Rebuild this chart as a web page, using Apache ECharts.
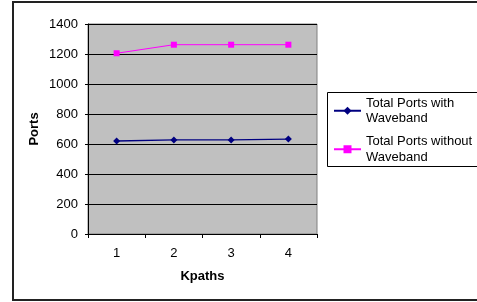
<!DOCTYPE html>
<html>
<head>
<meta charset="utf-8">
<script src="https://cdn.jsdelivr.net/npm/echarts@6/dist/echarts.min.js"></script>
<style>html,body{margin:0;padding:0;background:#fff}#c{width:477px;height:302px}</style>
</head>
<body>
<div id="c"></div>
<script>
const categories = ['1', '2', '3', '4'];
const withWaveband = [620, 627, 627, 633];
const withoutWaveband = [1205, 1262, 1262, 1262];
const seriesNames = ['Total Ports with\nWaveband', 'Total Ports without\nWaveband'];
const yTicks = { min: 0, max: 1400, interval: 200 };

const FONT = '"Liberation Sans", Arial, sans-serif';
const chart = echarts.init(document.getElementById('c'), null, { renderer: 'canvas' });

function legendFor(name, top) {
  return {
    data: [name],
    orient: 'vertical',
    left: 333,
    top: top,
    itemWidth: 27,
    itemHeight: 10,
    itemGap: 0,
    padding: 0,
    textStyle: {
      fontFamily: FONT, fontSize: 13, color: '#000',
      lineHeight: 15.5, padding: [15.5, 0, 0, 0]
    }
  };
}

chart.setOption({
  animation: false,
  backgroundColor: '#fff',
  graphic: [
    { type: 'rect', shape: { x: 13, y: 2, width: 470, height: 298 }, style: { fill: 'none', stroke: '#222', lineWidth: 2 }, z: 0 },
    { type: 'rect', shape: { x: 327.5, y: 92.5, width: 160, height: 74 }, style: { fill: '#fff', stroke: '#000', lineWidth: 1 }, z: 1 }
  ],
  legend: [legendFor(seriesNames[0], 87.5), legendFor(seriesNames[1], 126)],
  grid: {
    left: 88, top: 24, width: 229, height: 210,
    show: true, backgroundColor: '#C0C0C0', borderColor: '#808080', borderWidth: 1
  },
  xAxis: {
    type: 'category',
    data: categories,
    boundaryGap: true,
    name: 'Kpaths',
    nameLocation: 'middle',
    nameGap: 36,
    nameTextStyle: { fontFamily: FONT, fontSize: 13, fontWeight: 'bold', color: '#000' },
    axisLine: { lineStyle: { color: '#000', width: 1 } },
    axisTick: { show: true, length: 4, lineStyle: { color: '#000' } },
    axisLabel: { margin: 13, fontFamily: FONT, fontSize: 13, color: '#000' },
    splitLine: { show: false }
  },
  yAxis: {
    type: 'value',
    min: yTicks.min, max: yTicks.max, interval: yTicks.interval,
    name: 'Ports',
    nameLocation: 'middle',
    nameGap: 47,
    nameTextStyle: { fontFamily: FONT, fontSize: 13, fontWeight: 'bold', color: '#000' },
    axisLine: { show: true, lineStyle: { color: '#000', width: 1 } },
    axisTick: { show: true, length: 3, lineStyle: { color: '#000' } },
    axisLabel: { margin: 10, fontFamily: FONT, fontSize: 13, color: '#000', formatter: (v) => String(v) },
    splitLine: { show: true, lineStyle: { color: '#000', width: 1 } }
  },
  series: [
    {
      name: seriesNames[0], type: 'line', data: withWaveband,
      symbol: 'diamond', symbolSize: 7,
      itemStyle: { color: '#000080' },
      lineStyle: { color: '#000080', width: 1.3 }
    },
    {
      name: seriesNames[1], type: 'line', data: withoutWaveband,
      symbol: 'rect', symbolSize: 6,
      itemStyle: { color: '#FF00FF' },
      lineStyle: { color: '#FF00FF', width: 1 }
    }
  ]
});
</script>
</body>
</html>
